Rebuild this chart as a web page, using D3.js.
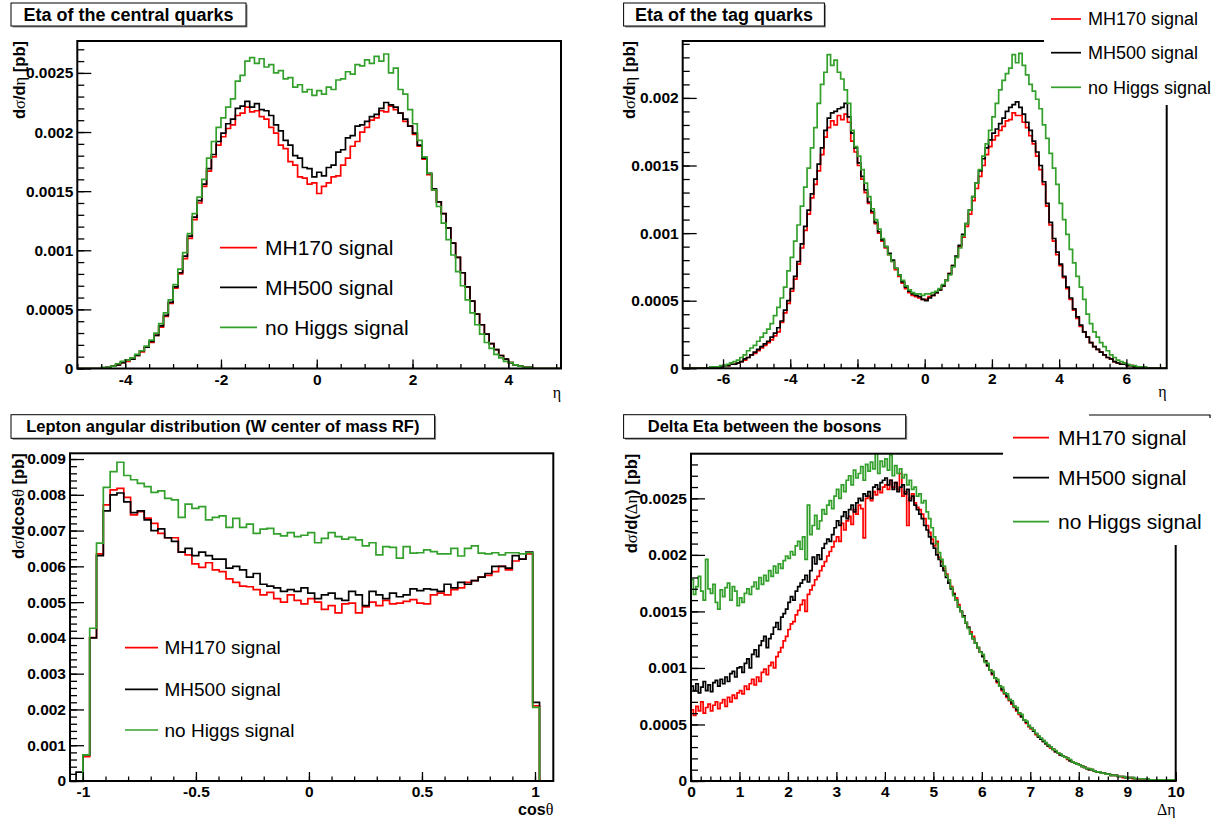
<!DOCTYPE html>
<html>
<head>
<meta charset="utf-8">
<script src="https://cdn.jsdelivr.net/npm/d3@7"></script>
<style>
body { margin: 0; background: #fff; }
svg { display: block; }
</style>
</head>
<body>
<svg id="chart" width="1220" height="818"></svg>
<script>
// all bin contents are in units of 1e-5 pb
var UNIT = 1e-5;

var seriesNames = ["MH170 signal", "MH500 signal", "no Higgs signal"];

// Eta of the central quarks, bins of 0.1 starting at -5
var etaCentralLo = -5, etaCentralWidth = 0.1;
var etaCentralMH170 = [0,0,0,0,0,0,1,2,3,5, 6,8,11,14,18,22,28,35,44,55, 68,80,93,110,126,140,154,167,179,189,
  196,203,206,214,216,221,217,218,213,211, 204,199,189,186,175,172,162,161,156,157,
  148,154,157,162,163,172,178,188,192,200, 204,210,212,218,217,222,219,216,209,205,
  198,188,177,164,151,141,131,119,106,94, 81,69,57,46,37,29,21,16,11,8, 5,3,2,1,1,0,0,0,0,0,0];
var etaCentralMH500 = [0,0,0,0,0,0,1,2,3,5, 7,8,11,15,18,23,28,36,45,56, 69,81,95,112,128,142,156,169,181,192,
  199,207,211,220,222,226,221,224,219,218, 214,206,201,193,189,180,178,170,169,162,
  166,163,170,172,183,185,195,197,205,206, 209,213,215,220,225,223,221,216,211,205,
  199,189,178,165,152,141,131,119,106,94, 81,69,57,46,37,29,21,16,11,8, 5,3,2,1,1,0,0,0,0,0,0];
var etaCentralNoHiggs = [0,0,0,0,0,1,1,2,4,6, 7,9,12,15,19,24,30,38,47,58, 71,84,98,114,131,145,160,178,192,204,
  212,221,228,243,248,260,263,258,262,255, 257,250,252,245,246,238,240,234,236,231,
  235,232,238,236,244,245,251,249,257,256, 261,258,264,260,266,250,254,236,232,219,
  207,193,179,165,151,137,123,109,96,82, 70,58,47,37,29,22,17,12,9,6, 5,3,2,1,1,0,0,0,0,0,0];

// Eta of the tag quarks, bins of 0.1 starting at -7.2
var etaTagLo = -7.2, etaTagWidth = 0.1;
var etaTagMH170 = [0,0,0,0,0,0,0,0,0,1, 1,1,2,2,3,3,4,5,6,8, 10,11,13,15,17,19,21,24,27,34,
  41,48,57,66,77,89,102,114,126,136, 146,158,171,178,183,180,187,184,188,182,
  168,160,150,140,130,122,115,107,100,94, 89,84,79,73,68,63,59,56,54,53,
  52,51,51,53,54,56,58,61,65,70, 76,82,90,97,105,114,124,133,142,150,
  158,164,169,172,176,179,183,184,189,187, 187,182,178,172,166,157,147,136,120,106,
  94,84,76,67,59,51,43,37,31,27, 23,19,16,14,12,10,8,7,5,4, 3,3,2,2,1,1,1,0,0,0,0,0,0,0];
var etaTagMH500 = [0,0,0,0,0,0,0,0,0,1, 1,1,2,2,3,3,4,5,7,8, 10,12,14,16,18,20,23,26,30,35,
  43,50,59,68,79,92,105,117,129,140, 151,163,176,185,189,190,192,193,196,186,
  174,163,152,142,132,123,116,108,101,95, 90,85,80,74,69,64,60,57,55,54,
  53,51,50,52,54,56,58,61,65,70, 76,83,91,99,107,117,127,137,146,155,
  163,169,174,177,181,185,190,193,195,197, 193,188,182,176,168,160,150,138,122,108,
  96,86,77,68,60,52,44,38,32,27, 23,19,16,14,12,10,8,7,5,4, 3,3,2,2,1,1,1,0,0,0,0,0,0,0];
var etaTagNoHiggs = [0,0,0,0,0,0,0,0,1,1, 1,2,2,3,4,5,6,8,10,13, 15,17,20,23,26,29,33,39,45,52,
  60,72,82,94,106,120,134,148,163,178, 196,210,219,232,224,228,219,214,206,196,
  176,164,157,147,137,127,118,110,103,96, 90,84,79,74,69,65,61,58,56,55,
  55,54,55,55,56,57,59,62,65,69, 75,82,89,98,107,117,127,137,147,157,
  166,176,186,196,206,213,218,222,232,226, 233,224,217,210,205,199,192,180,170,159,
  148,136,122,110,99,88,78,68,60,51, 40,33,27,23,19,16,13,10,8,6, 5,4,3,2,2,1,1,1,0,0,0,0,0,0];

// Lepton angular distribution, cos(theta) bins
var cosLo = -1.03015, cosWidth = 0.03015;
var cosMH170 = [0, 68,401,635,772,814,818,793,744,753,735, 720,692,680,680,640,632,607,597,610,590,
  585,565,555,545,543,535,520,527,510,500, 520,505,495,510,500,480,490,470,495,497,
  470,487,500,490,505,495,497,502,507,497, 495,520,525,520,535,540,555,560,570,575,
  585,600,590,615,620,635,210];
var cosMH500 = [25, 73,400,630,755,800,805,780,750,755,730, 700,705,680,670,640,650,630,640,630,620,
  620,595,600,590,570,580,550,545,540,530, 535,530,540,525,510,520,525,510,505,530,
  520,490,530,520,510,525,515,520,537,532, 537,535,530,550,540,555,550,560,570,580,
  600,600,595,630,620,640,220];
var cosNoHiggs = [0, 73,427,665,821,865,891,854,842,832,823, 807,811,790,786,737,774,762,767,730,737,
  741,709,734,709,718,692,704,706,691,685, 694,683,687,694,666,678,694,683,676,681,
  674,657,666,632,655,653,623,655,637,638, 646,641,635,635,650,629,650,657,637,635,
  638,632,638,638,635,638,206];

// Delta eta between the bosons, bins of 0.05 starting at 0
var dEtaLo = 0, dEtaWidth = 0.05;
var dEtaMH170 = [63,58,66,62,70,60,65,68,62,67,70,64,69,72,66,74,70,76,73,78,
  80,77,84,81,86,90,85,92,88,96,99,94,102,105,100,110,114,118,124,128,
  134,139,141,147,151,156,160,150,165,169,173,178,181,186,190,194,199,203,207,212,
  216,212,228,222,230,234,227,240,236,244,241,215,250,252,248,256,253,258,255,260,
  262,258,266,260,264,258,272,252,256,226,250,254,246,242,240,236,232,226,220,214,
  208,212,198,194,188,183,178,172,166,162,156,150,146,140,136,132,128,122,118,114,
  111,106,102,98,94,91,87,84,80,77,74,71,68,65,62,59,57,54,51,48,
  46,44,41,39,37,35,33,31,29,28,26,25,23,22,21,19,18,17,16,15,
  14,13,12,11,10,10,9,8,8,7,7,6,6,5,5,5,4,4,3,3,
  3,3,2,2,2,2,2,2,1,1,1,1,1,1,1,1,1,1,1,1];
var dEtaMH500 = [84,80,86,78,83,88,80,85,79,87,89,84,90,86,92,88,95,97,92,100,
  101,96,104,108,100,112,116,110,120,124,128,118,126,130,136,140,134,145,148,152,
  158,163,160,168,172,175,178,182,176,186,198,192,200,196,206,210,214,212,218,224,
  230,226,234,238,232,240,244,238,246,250,248,254,252,256,250,260,262,258,264,266,
  268,262,266,258,264,256,260,262,254,258,248,252,244,240,236,232,226,222,216,210,
  206,200,196,190,186,180,175,170,165,160,154,150,146,140,136,130,126,122,118,114,
  110,106,102,98,95,91,88,84,81,78,75,72,69,66,63,60,57,54,52,49,
  47,44,42,39,37,35,33,31,30,28,26,25,23,22,21,20,18,17,16,15,
  14,13,12,11,10,10,9,8,8,7,7,6,6,5,5,5,4,4,4,3,
  3,3,3,2,2,2,2,2,2,1,1,1,1,1,1,1,1,1,1,1];
var dEtaNoHiggs = [178,165,172,181,168,160,196,170,166,174,158,152,169,163,171,175,160,172,168,155,
  162,158,166,170,165,172,176,170,180,174,182,177,186,181,190,184,192,188,195,199,
  197,203,200,208,212,205,216,196,244,218,226,235,223,230,240,236,244,248,241,252,
  258,250,262,256,266,270,262,275,268,272,278,266,280,274,282,276,290,272,283,278,
  285,275,288,270,279,272,276,268,271,262,266,258,260,252,254,246,248,238,232,224,
  216,210,202,196,190,182,178,171,164,160,154,150,145,140,135,130,126,122,118,114,
  112,105,104,98,97,91,90,84,83,78,77,72,71,66,65,60,59,54,53,49,
  47,45,42,40,38,36,34,32,30,28,27,25,24,22,21,20,19,17,16,15,
  14,13,12,11,11,10,9,8,8,7,7,6,6,5,5,5,4,4,4,3,
  3,3,3,2,2,2,2,2,2,1,1,1,1,1,1,1,1,1,1,1];

var FONT = "'Liberation Sans', Arial, Helvetica, sans-serif";
var GREEK = "'Liberation Serif', 'DejaVu Serif', serif";
var colors = ["#ff0000", "#000000", "#33a02c"];

var svg = d3.select("#chart");

var panels = [
  { id: "p1", title: "Eta of the central quarks", titleBox: [11, 3, 246, 26], titleSize: 18,
    frame: { left: 77.3, right: 561, top: 41, bottom: 368.5 },
    xDomain: [-5, 5.1], yMax: 0.00277, lo: etaCentralLo, w: etaCentralWidth,
    data: [etaCentralMH170, etaCentralMH500, etaCentralNoHiggs],
    xMajor: 2, xMinor: 0.5, yMajor: 0.0005, yMinor: 0.0001,
    yTitle: [["d", 0], ["σ", 1], ["/d", 0], ["η", 1], [" [pb]", 0]], yTitleX: 25,
    xTitle: [["η", 1]], xTitleBold: false, xTitleDy: 29,
    legend: { x0: 220, x1: 257, tx: 265, ys: [247.7, 287.3, 327.3], size: 21 } },
  { id: "p2", title: "Eta of the tag quarks", titleBox: [623.6, 3, 824.4, 26], titleSize: 18,
    frame: { left: 682.7, right: 1166.7, top: 41, bottom: 368.3 },
    xDomain: [-7.2, 7.2], yMax: 0.002421, lo: etaTagLo, w: etaTagWidth,
    data: [etaTagMH170, etaTagMH500, etaTagNoHiggs],
    xMajor: 2, xMinor: 0.5, yMajor: 0.0005, yMinor: 0.0001,
    yTitle: [["d", 0], ["σ", 1], ["/d", 0], ["η", 1], [" [pb]", 0]], yTitleX: 635,
    xTitle: [["η", 1]], xTitleBold: false, xTitleDy: 29,
    legend: { x0: 1051, x1: 1081, tx: 1088, ys: [19, 52.7, 87.3], size: 18,
              box: [1044, 0, 1220, 105] } },
  { id: "p3", title: "Lepton angular distribution (W center of mass RF)", titleBox: [11, 414.7, 434.6, 438.3], titleSize: 16.5,
    frame: { left: 70, right: 553.3, top: 453.3, bottom: 781 },
    xDomain: [-1.057, 1.081], yMax: 0.00916, lo: cosLo, w: cosWidth,
    data: [cosMH170, cosMH500, cosNoHiggs],
    xMajor: 0.5, xMinor: 0.1, yMajor: 0.001, yMinor: 0.0002,
    yTitle: [["d", 0], ["σ", 1], ["/dcos", 0], ["θ", 1], [" [pb]", 0]], yTitleX: 23.5,
    xTitle: [["cos", 0], ["θ", 1]], xTitleBold: true, xTitleDy: 34,
    legend: { x0: 125, x1: 158, tx: 164.5, ys: [647.7, 689.3, 730], size: 19 } },
  { id: "p4", title: "Delta Eta between the bosons", titleBox: [623.6, 414.7, 905.7, 438.3], titleSize: 16.5,
    frame: { left: 691, right: 1175.7, top: 453.7, bottom: 781 },
    xDomain: [0, 10], yMax: 0.002895, lo: dEtaLo, w: dEtaWidth,
    data: [dEtaMH170, dEtaMH500, dEtaNoHiggs],
    xMajor: 1, xMinor: 0.2, yMajor: 0.0005, yMinor: 0.0001,
    yTitle: [["d", 0], ["σ", 1], ["/d(", 0], ["Δη", 1], [") [pb]", 0]], yTitleX: 637,
    xTitle: [["Δη", 1]], xTitleBold: false, xTitleDy: 34,
    legend: { x0: 1013, x1: 1049, tx: 1058, ys: [437.7, 477.7, 521.7], size: 21,
              box: [1003, 415, 1212, 545], boxLine: [1089, 1210] } }
];

function ticksBy(domain, step) {
  var out = [];
  var k0 = Math.ceil(domain[0] / step - 1e-6), k1 = Math.floor(domain[1] / step + 1e-6);
  for (var k = k0; k <= k1; k++) out.push(+(k * step).toFixed(6));
  return out;
}

function fmt(d) {
  return d === 0 ? "0" : String(+d.toFixed(6));
}

function addRich(sel, parts, bold) {
  parts.forEach(function(p) {
    sel.append("tspan")
      .text(p[0])
      .attr("font-family", p[1] ? GREEK : FONT)
      .attr("font-weight", p[1] ? "normal" : (bold ? "bold" : "normal"));
  });
}

function stepPoints(vals, lo, w, xDomain) {
  var pts = [[xDomain[0], 0], [lo, 0]];
  vals.forEach(function(v, i) {
    pts.push([lo + i * w, v * UNIT]);
    pts.push([lo + (i + 1) * w, v * UNIT]);
  });
  pts.push([lo + vals.length * w, 0]);
  pts.push([xDomain[1], 0]);
  return pts;
}

function drawPanel(p) {
  var f = p.frame;
  var x = d3.scaleLinear().domain(p.xDomain).range([f.left, f.right]);
  var y = d3.scaleLinear().domain([0, p.yMax]).range([f.bottom, f.top]);
  var g = svg.append("g").attr("class", "panel " + p.id);

  g.append("clipPath").attr("id", "clip-" + p.id)
    .append("rect")
    .attr("x", f.left).attr("y", f.top)
    .attr("width", f.right - f.left).attr("height", f.bottom - f.top);

  // histograms (red, black, green on top)
  var line = d3.line().x(function(d) { return x(d[0]); }).y(function(d) { return y(d[1]); });
  var hists = g.append("g").attr("clip-path", "url(#clip-" + p.id + ")");
  p.data.forEach(function(vals, k) {
    hists.append("path")
      .attr("d", line(stepPoints(vals, p.lo, p.w, p.xDomain)))
      .attr("fill", "none")
      .attr("stroke", colors[k])
      .attr("stroke-width", 1.7)
      .attr("stroke-linejoin", "miter");
  });

  // minor ticks
  var yMinorAxis = d3.axisLeft(y).tickValues(ticksBy([0, p.yMax], p.yMinor)).tickSize(-7).tickFormat("");
  var xMinorAxis = d3.axisBottom(x).tickValues(ticksBy(p.xDomain, p.xMinor)).tickSize(-4.5).tickFormat("");
  // major ticks
  var yAxis = d3.axisLeft(y).tickValues(ticksBy([0, p.yMax], p.yMajor)).tickSize(-14).tickPadding(4).tickFormat(fmt);
  var xAxis = d3.axisBottom(x).tickValues(ticksBy(p.xDomain, p.xMajor)).tickSize(-9).tickPadding(5).tickFormat(fmt);

  [[yMinorAxis, "y"], [yAxis, "y"], [xMinorAxis, "x"], [xAxis, "x"]].forEach(function(a) {
    var ag = g.append("g")
      .attr("transform", a[1] === "y" ? "translate(" + f.left + ",0)" : "translate(0," + f.bottom + ")")
      .call(a[0]);
    ag.select(".domain").remove();
    ag.selectAll(".tick line").attr("stroke", "#000").attr("stroke-width", 1.3);
    ag.selectAll(".tick text")
      .attr("fill", "#000")
      .attr("font-family", FONT)
      .attr("font-weight", "bold")
      .attr("font-size", 15.5);
  });

  // frame
  g.append("rect")
    .attr("x", f.left).attr("y", f.top)
    .attr("width", f.right - f.left).attr("height", f.bottom - f.top)
    .attr("fill", "none").attr("stroke", "#000").attr("stroke-width", 2);

  // axis titles
  var yt = g.append("text")
    .attr("transform", "translate(" + p.yTitleX + "," + f.top + ") rotate(-90)")
    .attr("text-anchor", "end")
    .attr("font-size", 16.5)
    .attr("fill", "#000");
  addRich(yt, p.yTitle, true);

  var xt = g.append("text")
    .attr("x", f.right)
    .attr("y", f.bottom + p.xTitleDy)
    .attr("text-anchor", "end")
    .attr("font-size", 16)
    .attr("fill", "#000");
  addRich(xt, p.xTitle, p.xTitleBold);

  // legend
  var L = p.legend;
  if (L.box) {
    g.append("rect")
      .attr("x", L.box[0]).attr("y", L.box[1])
      .attr("width", L.box[2] - L.box[0]).attr("height", L.box[3] - L.box[1])
      .attr("fill", "#fff");
  }
  if (L.boxLine) {
    g.append("path")
      .attr("d", "M" + L.boxLine[0] + "," + L.box[1] + "H" + L.boxLine[1] + "v3")
      .attr("fill", "none").attr("stroke", "#000").attr("stroke-width", 1.2);
  }
  seriesNames.forEach(function(name, k) {
    g.append("line")
      .attr("x1", L.x0).attr("x2", L.x1)
      .attr("y1", L.ys[k]).attr("y2", L.ys[k])
      .attr("stroke", colors[k]).attr("stroke-width", 1.7);
    g.append("text")
      .attr("x", L.tx).attr("y", L.ys[k]).attr("dy", "0.35em")
      .attr("font-family", FONT).attr("font-size", L.size)
      .attr("fill", "#000")
      .text(name);
  });

  // title box with shadow
  var b = p.titleBox;
  g.append("rect")
    .attr("x", b[0] + 1.5).attr("y", b[1] + 1.5)
    .attr("width", b[2] - b[0]).attr("height", b[3] - b[1])
    .attr("fill", "#888");
  g.append("rect")
    .attr("x", b[0]).attr("y", b[1])
    .attr("width", b[2] - b[0]).attr("height", b[3] - b[1])
    .attr("fill", "#fff").attr("stroke", "#000").attr("stroke-width", 1);
  g.append("text")
    .attr("x", (b[0] + b[2]) / 2).attr("y", (b[1] + b[3]) / 2).attr("dy", "0.35em")
    .attr("text-anchor", "middle")
    .attr("font-family", FONT).attr("font-weight", "bold").attr("font-size", p.titleSize)
    .attr("fill", "#000")
    .text(p.title);
}

panels.forEach(drawPanel);
</script>
</body>
</html>
